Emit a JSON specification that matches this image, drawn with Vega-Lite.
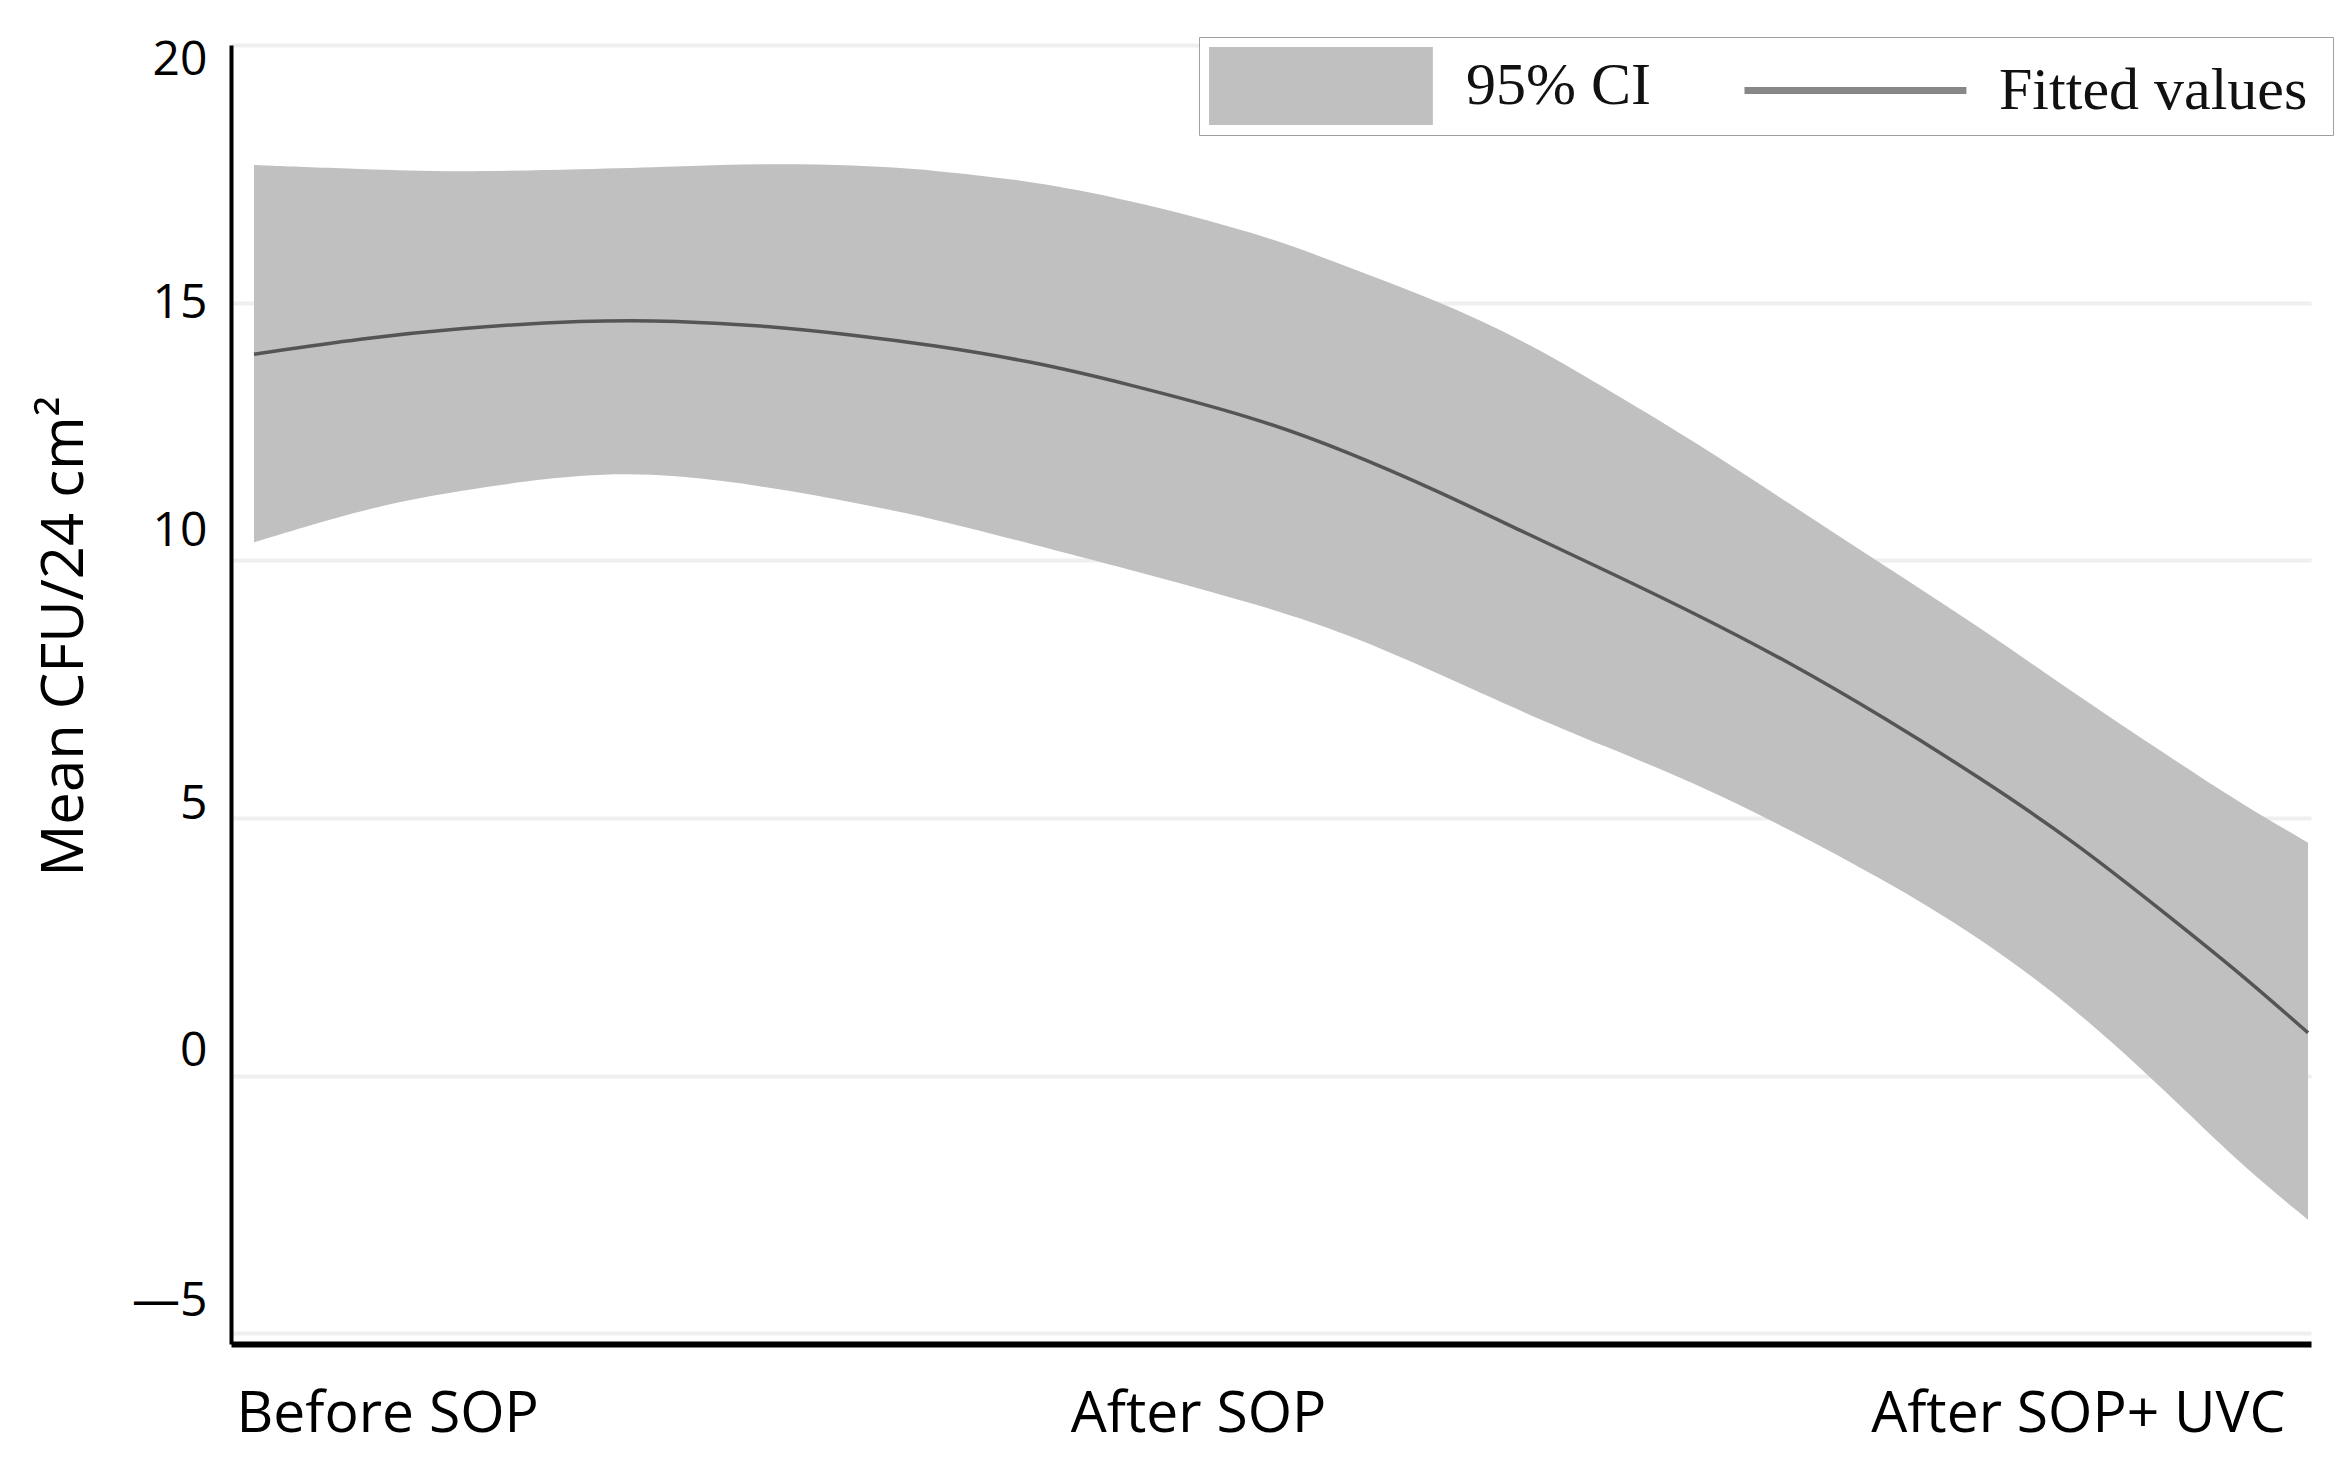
{
  "$schema": "https://vega.github.io/schema/vega-lite/v6.json",
  "description": "Fitted values with 95% CI, mean CFU per 24 cm2",
  "width": 2080,
  "height": 1299,
  "autosize": {"type": "none"},
  "padding": {"left": 231, "top": 45, "right": 30, "bottom": 125},
  "background": "white",
  "config": {
    "view": {"stroke": null},
    "font": "Open Sans"
  },
  "data": {
    "values": [
      {"x": 1.000, "lo": 10.35, "hi": 17.67, "fit": 14.00},
      {"x": 1.107, "lo": 11.00, "hi": 17.59, "fit": 14.31},
      {"x": 1.194, "lo": 11.34, "hi": 17.53, "fit": 14.50},
      {"x": 1.324, "lo": 11.70, "hi": 17.59, "fit": 14.66},
      {"x": 1.411, "lo": 11.66, "hi": 17.64, "fit": 14.65},
      {"x": 1.499, "lo": 11.43, "hi": 17.70, "fit": 14.55},
      {"x": 1.585, "lo": 11.12, "hi": 17.67, "fit": 14.37},
      {"x": 1.659, "lo": 10.82, "hi": 17.58, "fit": 14.18},
      {"x": 1.760, "lo": 10.30, "hi": 17.35, "fit": 13.85},
      {"x": 1.847, "lo": 9.85, "hi": 17.02, "fit": 13.44},
      {"x": 1.977, "lo": 9.15, "hi": 16.36, "fit": 12.76},
      {"x": 2.064, "lo": 8.58, "hi": 15.70, "fit": 12.11},
      {"x": 2.151, "lo": 7.82, "hi": 15.05, "fit": 11.36},
      {"x": 2.238, "lo": 7.03, "hi": 14.25, "fit": 10.53},
      {"x": 2.311, "lo": 6.42, "hi": 13.40, "fit": 9.85},
      {"x": 2.403, "lo": 5.68, "hi": 12.30, "fit": 8.97},
      {"x": 2.495, "lo": 4.78, "hi": 11.10, "fit": 8.02},
      {"x": 2.587, "lo": 3.80, "hi": 9.90, "fit": 6.95},
      {"x": 2.679, "lo": 2.70, "hi": 8.72, "fit": 5.80},
      {"x": 2.772, "lo": 1.33, "hi": 7.42, "fit": 4.55},
      {"x": 2.864, "lo": -0.35, "hi": 6.20, "fit": 3.10},
      {"x": 2.933, "lo": -1.70, "hi": 5.30, "fit": 2.00},
      {"x": 3.000, "lo": -2.80, "hi": 4.52, "fit": 0.83}
    ]
  },
  "encoding": {
    "x": {
      "field": "x",
      "type": "quantitative",
      "scale": {"domain": [0.9776, 3.0029], "nice": false, "zero": false},
      "axis": {
        "title": null,
        "values": [1, 2, 3],
        "grid": false,
        "ticks": false,
        "tickSize": 0,
        "domainColor": "black",
        "domainWidth": 6,
        "labelFont": "Open Sans",
        "labelFontSize": 57,
        "labelColor": "black",
        "labelPadding": 42,
        "labelBaseline": "top",
        "labelLimit": 1000,
        "labelExpr": "datum.value == 1 ? 'Before SOP' : datum.value == 2 ? 'After SOP' : 'After SOP+ UVC'",
        "labelAlign": {"condition": [{"test": "datum.value == 1", "value": "left"}, {"test": "datum.value == 3", "value": "right"}], "value": "center"},
        "labelOffset": {"condition": [{"test": "datum.value == 1", "value": -18}, {"test": "datum.value == 2", "value": -83}], "value": -23},
        "labelFlush": false,
        "labelOverlap": false
      }
    }
  },
  "layer": [
    {
      "mark": {"type": "area", "interpolate": "basis", "opacity": 1},
      "encoding": {
        "y": {
          "field": "lo",
          "type": "quantitative",
          "scale": {"domain": [-5.21, 20], "nice": false, "zero": false},
          "axis": {
            "title": "Mean CFU/24 cm²",
            "titleFont": "Open Sans",
            "titleFontSize": 58,
            "titleFontWeight": "normal",
            "titleColor": "black",
            "titleAngle": -90,
            "titleAlign": "center",
            "titleBaseline": "alphabetic",
            "titleX": -149,
            "titleY": 591,
            "values": [-5, 0, 5, 10, 15, 20],
            "grid": true,
            "gridColor": "#efefef",
            "gridWidth": 4,
            "ticks": false,
            "tickSize": 0,
            "domainColor": "black",
            "domainWidth": 4,
            "labelFont": "Open Sans",
            "labelFontSize": 48,
            "labelColor": "black",
            "labelPadding": 24,
            "labelBaseline": "middle",
            "labelExpr": "datum.value < 0 ? '—' + abs(datum.value) : datum.label",
            "labelOffset": {"condition": [
              {"test": "datum.value == 20", "value": 15},
              {"test": "datum.value == 10", "value": -29},
              {"test": "datum.value == 5", "value": -13},
              {"test": "datum.value == 0", "value": -24},
              {"test": "datum.value == -5", "value": -32}
            ], "value": 1},
            "labelFlush": false,
            "labelOverlap": false
          }
        },
        "y2": {"field": "hi"},
        "fill": {
          "datum": "95% CI",
          "type": "nominal",
          "scale": {"domain": ["95% CI"], "range": ["#c0c0c0"]},
          "legend": {
            "title": "Fitted values",
            "titleOrient": "right",
            "titleColor": "rgba(0,0,0,0)",
            "titleFont": "Liberation Serif",
            "titleFontSize": 60,
            "titleFontWeight": "normal",
            "titleLimit": 1000,
            "titlePadding": 363,
            "orient": "none",
            "legendX": 968,
            "legendY": -8,
            "padding": 10,
            "strokeColor": "#a0a0a0",
            "fillColor": "white",
            "symbolSize": 6084,
            "symbolType": "M-1,-1H4.74V1H-1Z",
            "symbolStrokeWidth": 0,
            "symbolOpacity": 1,
            "labelFont": "Liberation Serif",
            "labelFontSize": 60,
            "labelColor": "#111111",
            "labelOffset": 179,
            "labelBaseline": "middle",
            "labelLimit": 600
          }
        }
      }
    },
    {
      "mark": {"type": "line", "interpolate": "basis", "strokeWidth": 3.5},
      "encoding": {
        "y": {"field": "fit", "type": "quantitative"},
        "stroke": {
          "datum": "Fitted values",
          "type": "nominal",
          "scale": {"domain": ["Fitted values"], "range": ["#555555"]},
          "legend": {
            "title": null,
            "orient": "none",
            "legendX": 1510,
            "legendY": 3,
            "padding": 0,
            "strokeColor": null,
            "fillColor": null,
            "symbolSize": 6084,
            "symbolType": "M-1,0H4.69",
            "symbolStrokeWidth": 7,
            "symbolOpacity": 0.7,
            "labelFont": "Liberation Serif",
            "labelFontSize": 60,
            "labelColor": "#111111",
            "labelOffset": 173,
            "labelBaseline": "middle",
            "labelLimit": 600
          }
        }
      }
    }
  ]
}
